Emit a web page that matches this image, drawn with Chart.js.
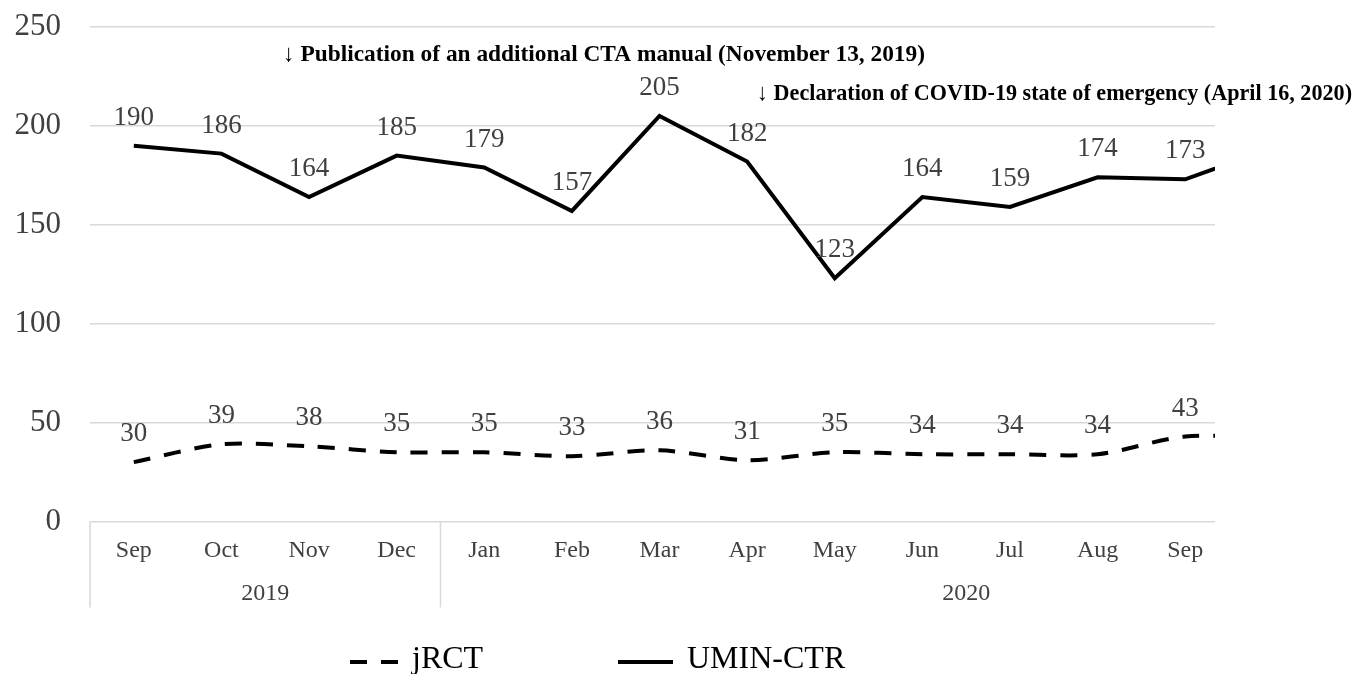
<!DOCTYPE html>
<html>
<head>
<meta charset="utf-8">
<script src="https://cdn.jsdelivr.net/npm/chart.js@4.4.1/dist/chart.umd.min.js"></script>
<style>
html, body { margin: 0; padding: 0; background: #fff; }
canvas { display: block; }
</style>
</head>
<body>
<canvas id="chart" width="1360" height="674"></canvas>
<script>
"use strict";

// last "Oct" only peeks in at the right edge of the plot, it gets no tick or label
const months = ["Sep", "Oct", "Nov", "Dec", "Jan", "Feb", "Mar", "Apr", "May", "Jun", "Jul", "Aug", "Sep", "Oct"];
const shownCount = 13;
const years = [
	{ label: "2019", first: 0, last: 3 },
	{ label: "2020", first: 4, last: 15 },
];
const jrct = [30, 39, 38, 35, 35, 33, 36, 31, 35, 34, 34, 34, 43, 42];
const umin = [190, 186, 164, 185, 179, 157, 205, 182, 123, 164, 159, 174, 173, 189];
const yTicks = [0, 50, 100, 150, 200, 250];
const notes = [
	{ text: "\u2193 Publication of an additional CTA manual (November 13, 2019)", x: 283, y: 61, w: 642 },
	{ text: "\u2193 Declaration of COVID-19 state of emergency (April 16, 2020)", x: 757, y: 100, w: 595 },
];

const SERIF = "'Liberation Serif', 'Times New Roman', serif";
const GREY = "#404040";
const GRID = "#d9d9d9";

function toPoints(values) {
	return values.map((v, i) => ({ x: i, y: v }));
}

// numbers above each visible point
const valueLabels = {
	id: "valueLabels",
	afterDatasetsDraw(chart) {
		const ctx = chart.ctx;
		ctx.save();
		ctx.font = `27px ${SERIF}`;
		ctx.fillStyle = GREY;
		ctx.textAlign = "center";
		ctx.textBaseline = "middle";
		chart.data.datasets.forEach((ds, di) => {
			const meta = chart.getDatasetMeta(di);
			meta.data.forEach((pt, i) => {
				if (i >= shownCount) {
					return;
				}
				ctx.fillText(String(ds.data[i].y), pt.x, pt.y - 28);
			});
		});
		ctx.restore();
	},
};

// second row of the x axis: years with separators
const yearRow = {
	id: "yearRow",
	afterDraw(chart) {
		const ctx = chart.ctx;
		const x = chart.scales.x;
		const top = chart.chartArea.bottom;
		ctx.save();
		ctx.strokeStyle = GRID;
		ctx.lineWidth = 1.5;
		ctx.font = `24px ${SERIF}`;
		ctx.fillStyle = GREY;
		ctx.textAlign = "center";
		ctx.textBaseline = "middle";
		for (const yr of years) {
			const left = x.getPixelForValue(yr.first - 0.5);
			ctx.beginPath();
			ctx.moveTo(left, top);
			ctx.lineTo(left, top + 86);
			ctx.stroke();
			const mid = x.getPixelForValue((yr.first + yr.last) / 2);
			ctx.fillText(yr.label, mid, top + 72);
		}
		ctx.restore();
	},
};

// the notes in the original are a narrow bold face, squeeze them to the same width
const annotations = {
	id: "annotations",
	afterDraw(chart) {
		const ctx = chart.ctx;
		for (const n of notes) {
			ctx.save();
			ctx.font = `bold 24px ${SERIF}`;
			ctx.fillStyle = "#000";
			ctx.textAlign = "left";
			ctx.textBaseline = "alphabetic";
			const sx = n.w / ctx.measureText(n.text).width;
			ctx.translate(n.x, n.y);
			ctx.scale(sx, 1);
			ctx.fillText(n.text, 0, 0);
			ctx.restore();
		}
	},
};

// legend drawn by hand, it sits half off the bottom edge like the original
const lineLegend = {
	id: "lineLegend",
	afterDraw(chart) {
		const ctx = chart.ctx;
		const items = [
			{ ds: chart.data.datasets[0], x: 350, w: 48 },
			{ ds: chart.data.datasets[1], x: 618, w: 55 },
		];
		ctx.save();
		ctx.font = `32px ${SERIF}`;
		ctx.textBaseline = "alphabetic";
		for (const it of items) {
			ctx.strokeStyle = it.ds.borderColor;
			ctx.lineWidth = it.ds.borderWidth;
			ctx.setLineDash(it.ds.borderDash || []);
			ctx.beginPath();
			ctx.moveTo(it.x, 662);
			ctx.lineTo(it.x + it.w, 662);
			ctx.stroke();
			ctx.fillStyle = "#000";
			ctx.fillText(it.ds.label, it.x + it.w + 14, 668);
		}
		ctx.restore();
	},
};

new Chart(document.getElementById("chart"), {
	type: "line",
	data: {
		datasets: [
			{
				label: "jRCT",
				data: toPoints(jrct),
				borderColor: "#000",
				borderWidth: 4,
				borderDash: [17, 14],
				tension: 0.3,
				pointRadius: 0,
			},
			{
				label: "UMIN-CTR",
				data: toPoints(umin),
				borderColor: "#000",
				borderWidth: 4,
				tension: 0,
				pointRadius: 0,
			},
		],
	},
	options: {
		responsive: false,
		animation: false,
		layout: {
			padding: { top: 27, right: 145, bottom: 0, left: 12 },
		},
		plugins: {
			legend: { display: false },
			tooltip: { enabled: false },
		},
		scales: {
			x: {
				type: "linear",
				min: -0.5,
				max: 12.34,
				afterBuildTicks: scale => {
					scale.ticks = months.slice(0, shownCount).map((_, i) => ({ value: i }));
				},
				afterFit: scale => {
					scale.height = 152.5;
				},
				ticks: {
					callback: v => months[v],
					font: { family: SERIF, size: 24 },
					color: GREY,
					padding: 15,
					autoSkip: false,
					maxRotation: 0,
				},
				grid: { display: false, drawTicks: false },
				border: { display: false },
			},
			y: {
				min: 0,
				max: 250,
				afterBuildTicks: scale => {
					scale.ticks = yTicks.map(v => ({ value: v }));
				},
				afterFit: scale => {
					scale.width = 78;
				},
				ticks: {
					font: { family: SERIF, size: 31 },
					color: GREY,
					padding: 3,
				},
				// invisible tick marks just hold the gap between labels and plot
				grid: { color: GRID, lineWidth: 1.5, drawTicks: true, tickLength: 26, tickColor: "rgba(0,0,0,0)" },
				border: { display: false },
			},
		},
	},
	plugins: [valueLabels, yearRow, annotations, lineLegend],
});
</script>
</body>
</html>
